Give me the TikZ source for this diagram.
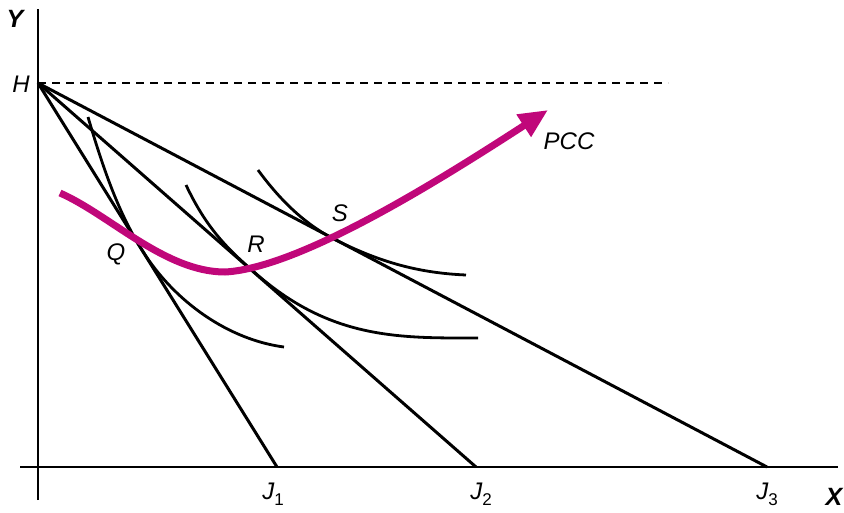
\documentclass[tikz,border=0pt]{standalone}
\usepackage{fontspec}
\setmainfont{Liberation Sans}
\usetikzlibrary{arrows.meta}
\definecolor{pcc}{HTML}{C0077A}
\newcommand{\subsc}[1]{\raisebox{-0.45ex}{\fontsize{17}{17}\selectfont\upshape #1}}
\begin{document}
\begin{tikzpicture}[x=1pt,y=-1pt,
  axis/.style={line width=1.3pt},
  budget/.style={line width=3pt},
  icurve/.style={line width=2.8pt},
  lbl/.style={font=\fontsize{24}{26}\selectfont\itshape, inner sep=0pt},
  axlbl/.style={font=\fontsize{25}{26}\selectfont\bfseries\itshape, inner sep=0pt},
  pccline/.style={line width=7pt, color=pcc, -{Triangle[length=29pt,width=25pt]}}]
\useasboundingbox (0,0) rectangle (844,512);
% axes
\coordinate (ytop) at (38,9);
\coordinate (ybot) at (38,500);
\coordinate (xl) at (20,467);
\coordinate (xr) at (838,467);
\draw[axis] (ybot) -- (ytop);
\draw[axis] (xl) -- (xr);
% points
\coordinate (H) at (38,83);
\coordinate (J1) at (277,467);
\coordinate (J2) at (476,467);
\coordinate (J3) at (767,467);
\coordinate (dashend) at (668,83);
\draw[axis, dash pattern=on 8pt off 6pt] (H) -- (dashend);
% budget lines
\draw[budget] (H) -- (J1);
\draw[budget] (H) -- (J2);
\draw[budget] (H) -- (J3);
% indifference curves
\draw[icurve] (88,117) .. controls (105,175) and (120,215) .. (142,250)
  .. controls (175,303) and (230,340) .. (284,347);
\draw[icurve] (186,185) .. controls (205,225) and (224,246) .. (253,271)
  .. controls (330,340) and (400,338) .. (478,338);
\draw[icurve] (258,170) .. controls (280,200) and (303,222) .. (330,237)
  .. controls (380,263) and (420,273) .. (466,275);
% PCC
\draw[pccline] (60,193) .. controls (110,215) and (165,272) .. (225,272)
  .. controls (300,268) and (440,180) .. (548,110);
% labels
\node[axlbl] (Ylab) at (15,19) {Y};
\node[axlbl] (Xlab) at (834,497) {X};
\node[lbl] (Hlab) at (21,84) {H};
\node[lbl] (Qlab) at (116,254) {Q};
\node[lbl] (Rlab) at (256,244) {R};
\node[lbl] (Slab) at (340,213) {S};
\node[lbl] (PCClab) at (569,141) {PCC};
\node[lbl] (J1lab) at (273,494) {J\subsc{1}};
\node[lbl] (J2lab) at (481,494) {J\subsc{2}};
\node[lbl] (J3lab) at (767,494) {J\subsc{3}};
\end{tikzpicture}
\end{document}
